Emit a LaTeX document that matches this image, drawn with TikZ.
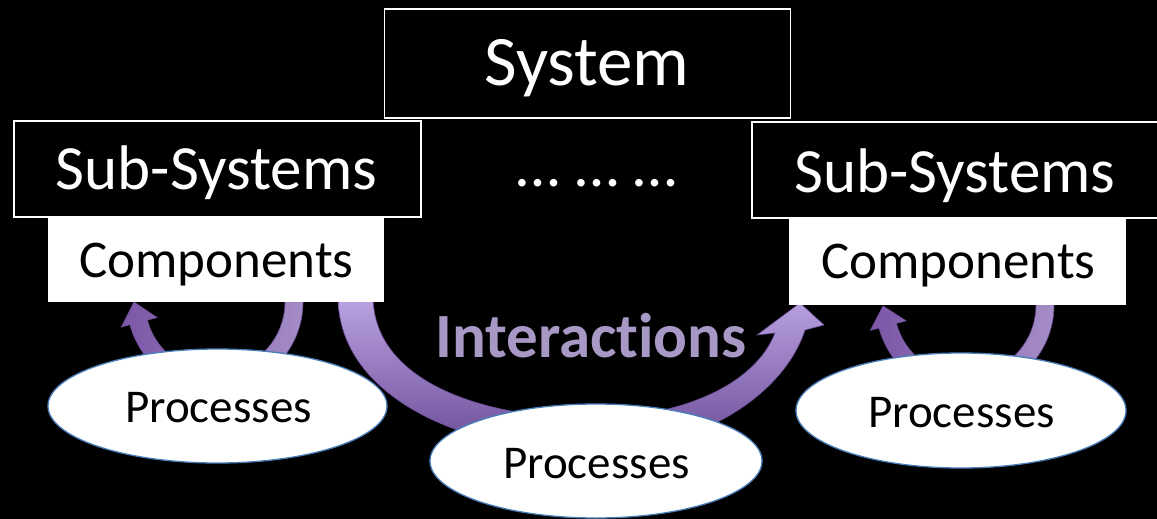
\documentclass[tikz,border=0pt]{standalone}
\usepackage{fontspec}
\setmainfont{Carlito}[Ligatures={NoCommon,NoContextual}]
\usetikzlibrary{shapes.geometric,calc}
\definecolor{loopD}{HTML}{7B57A6}
\definecolor{loopL}{HTML}{A58DC6}
\definecolor{midL}{HTML}{BBA4E2}
\definecolor{midD}{HTML}{6A4A95}
\definecolor{edgeP}{HTML}{6E4D98}
\definecolor{interC}{HTML}{A898C6}
\definecolor{ellB}{HTML}{4A7EBB}
\tikzset{
  darkbox/.style={draw=white, line width=1.3pt, fill=black, inner sep=0pt},
  whitebox/.style={draw=none, fill=white, inner sep=0pt},
  proc/.style={ellipse, draw=ellB, line width=1.3pt, fill=white, inner sep=0pt},
  band/.style={draw=edgeP, line width=0.6pt},
  wtxt/.style={text=white, anchor=base, inner sep=0pt},
  btxt/.style={text=black, anchor=base, inner sep=0pt},
}
\begin{document}
\begin{tikzpicture}[x=1pt, y=-1pt]
\fill[black] (0,0) rectangle (1157,519);
\useasboundingbox (0,0) rectangle (1157,519);

% centres of the two loop arrows
\coordinate (c1) at (215,302);
\coordinate (c3) at (965,305);
\coordinate (tip1) at (134,302);
\coordinate (tip3) at (883,306);
\coordinate (tip2) at (800,303);

% left loop arrow
\shade[band, left color=loopD, right color=loopL]
  ($(c1)+(-3:88)$) arc[start angle=-3, end angle=165, radius=88]
  -- ($(c1)+(165:97)$) -- (tip1) -- ($(c1)+(165:60)$) -- ($(c1)+(165:70)$)
  arc[start angle=165, end angle=-3, radius=70] -- cycle;

% right loop arrow
\shade[band, left color=loopD, right color=loopL]
  ($(c3)+(-3:89)$) arc[start angle=-3, end angle=165, radius=89]
  -- ($(c3)+(165:98)$) -- (tip3) -- ($(c3)+(165:61)$) -- ($(c3)+(165:71)$)
  arc[start angle=165, end angle=-3, radius=71] -- cycle;

% middle interaction arrow
\shade[band, top color=midL, bottom color=midD]
  (338,296) .. controls (338,400) and (470,452) .. (590,452)
  .. controls (690,452) and (782,400) .. (805,330)
  -- (824,325) -- (tip2) -- (757,335) -- (775,333)
  .. controls (755,385) and (680,418) .. (590,418)
  .. controls (480,418) and (373,380) .. (373,296) -- cycle;

% boxes
\node[darkbox, minimum width=406pt, minimum height=109pt] (sys) at (587.5,63.5) {};
\node[whitebox, minimum width=336pt, minimum height=85pt] (compL) at (216,259.5) {};
\node[whitebox, minimum width=337pt, minimum height=87pt] (compR) at (957.5,261.5) {};
\node[darkbox, minimum width=407pt, minimum height=96pt] (subL) at (217.5,169) {};
\node[darkbox, minimum width=420pt, minimum height=96pt] (subR) at (962,170) {};

% ellipses
\node[proc, minimum width=339pt, minimum height=114pt] (procL) at (217.5,406) {};
\node[proc, minimum width=332pt, minimum height=114pt] (procM) at (596,461) {};
\node[proc, minimum width=330pt, minimum height=115pt] (procR) at (961,410.5) {};

% texts
\node[wtxt, font=\fontsize{71}{80}\selectfont] (tsys) at (587,85) {System};
\node[wtxt, font=\fontsize{63}{70}\selectfont] (tsubL) at (216.5,189) {Sub-Systems};
\node[wtxt, font=\fontsize{63}{70}\selectfont] (tsubR) at (955,192) {Sub-Systems};
\node[wtxt, font=\fontsize{63}{70}\selectfont] (dots) at (597,186) {…\hspace{0.24em}…\hspace{0.24em}…};
\node[btxt, font=\fontsize{53}{60}\selectfont] (tcompL) at (216.5,277) {Components};
\node[btxt, font=\fontsize{53}{60}\selectfont] (tcompR) at (958.5,278) {Components};
\node[btxt, font=\fontsize{47}{54}\selectfont] (tprocL) at (218.5,422) {Processes};
\node[btxt, font=\fontsize{47}{54}\selectfont] (tprocM) at (596.5,478) {Processes};
\node[btxt, font=\fontsize{47}{54}\selectfont] (tprocR) at (961.5,427) {Processes};
\node[anchor=base, inner sep=0pt, text=interC, font=\bfseries\fontsize{63}{70}\selectfont] (inter) at (591,357) {Interactions};
\end{tikzpicture}
\end{document}
